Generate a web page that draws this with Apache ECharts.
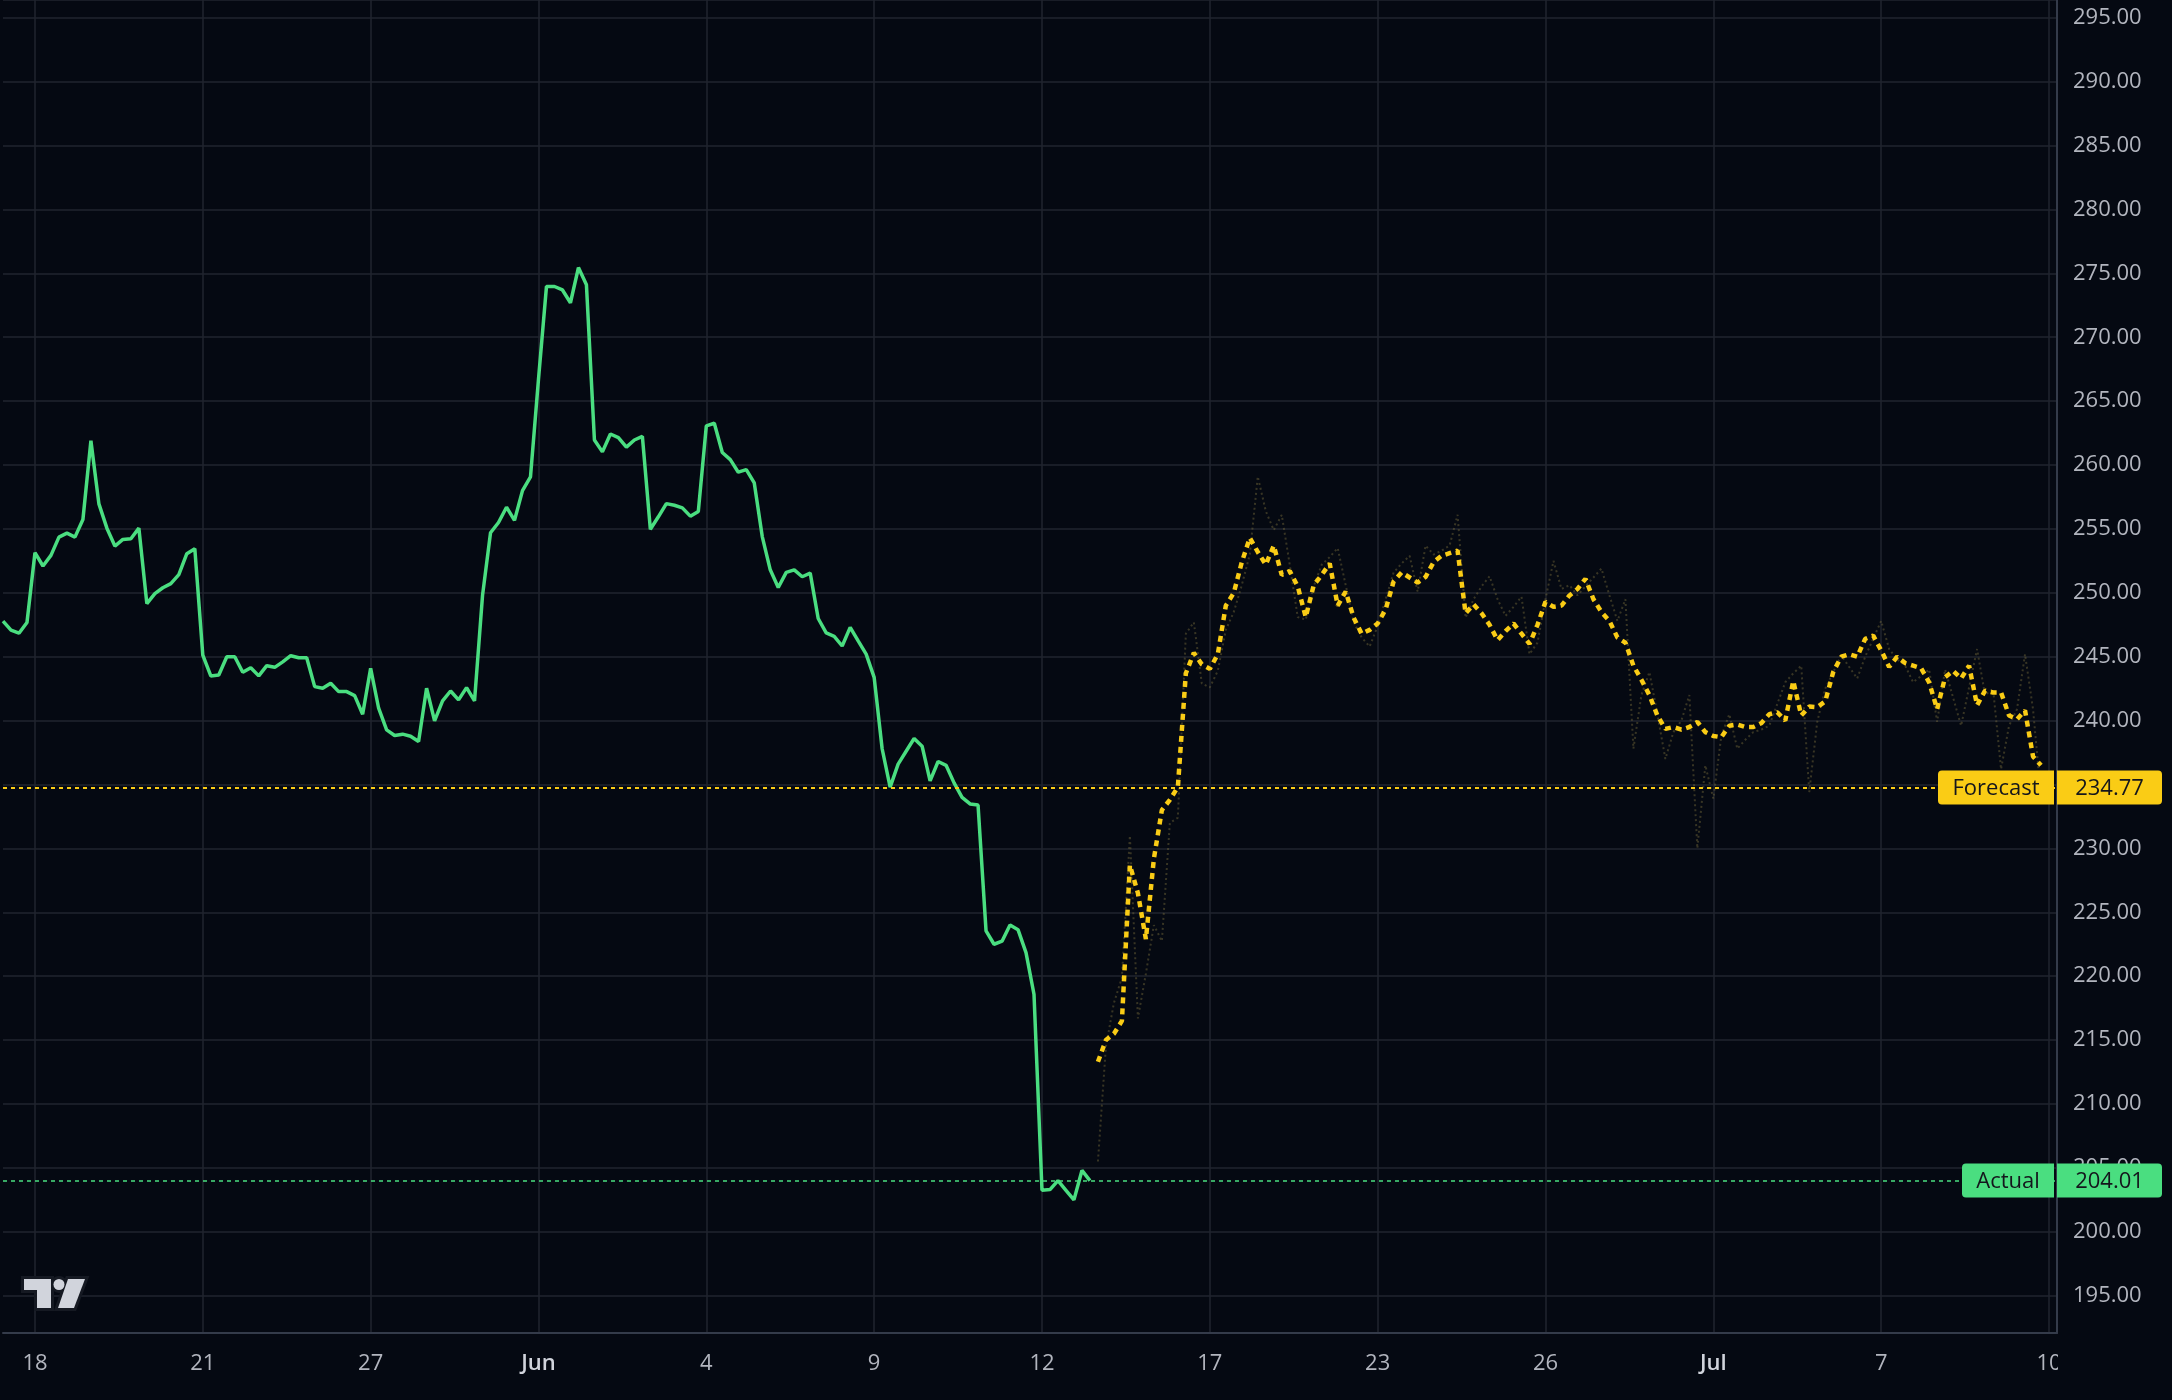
<!DOCTYPE html>
<html>
<head>
<meta charset="utf-8">
<script src="https://cdn.jsdelivr.net/npm/echarts@6/dist/echarts.min.js"></script>
<style>
html,body{margin:0;padding:0;background:#050912;}
#c{width:2172px;height:1400px;}
</style>
</head>
<body>
<div id="c"></div>
<script>
// ---- data ----
const barCount = 258;
const tickIndex = [4, 25, 46, 67, 88, 109, 130, 151, 172, 193, 214, 235, 256];
const tickText = ['18', '21', '27', 'Jun', '4', '9', '12', '17', '23', '26', 'Jul', '7', '10'];
const monthLabels = ['Jun', 'Jul'];

const yMin = 192.08;
const yMax = 296.39;

const actualStart = 0;
const actual = [
  247.78, 247.08, 246.84, 247.68, 253.14, 252.1, 252.93, 254.36, 254.67, 254.36,
  255.74, 261.9, 256.96, 255.06, 253.66, 254.18, 254.23, 255.06, 249.16, 249.94,
  250.4, 250.72, 251.42, 253.06, 253.45, 245.13, 243.5, 243.57, 245.0, 245.0,
  243.78, 244.14, 243.5, 244.3, 244.17, 244.6, 245.08, 244.92, 244.92, 242.66,
  242.53, 242.92, 242.27, 242.27, 241.96, 240.5, 244.1, 240.97, 239.28, 238.84,
  238.94, 238.78, 238.37, 242.53, 239.98, 241.54, 242.32, 241.62, 242.58, 241.54,
  249.8, 254.7, 255.5, 256.7, 255.67, 258.0, 259.08, 266.7, 273.97, 273.97,
  273.7, 272.7, 275.45, 274.1, 261.96, 261.03, 262.43, 262.15, 261.4, 261.96,
  262.24, 254.97, 255.95, 256.98, 256.85, 256.65, 256.0, 256.37, 263.07, 263.27,
  260.98, 260.42, 259.44, 259.64, 258.6, 254.4, 251.8, 250.42, 251.6, 251.8,
  251.26, 251.54, 247.99, 246.87, 246.6, 245.84, 247.3, 246.24, 245.2, 243.38,
  237.8, 234.8, 236.6, 237.6, 238.6, 238.0, 235.28, 236.8, 236.5, 235.13,
  234.0, 233.48, 233.39, 223.55, 222.5, 222.74, 224.0, 223.64, 221.84, 218.59,
  203.25, 203.3, 204.0, 203.25, 202.5, 204.8, 204.0
];

const forecastStart = 137;
const forecast = [
  213.3, 215.0, 215.5, 216.5, 228.7, 226.5, 222.9, 229.2, 233.0, 233.8,
  234.8, 243.7, 245.3, 244.4, 244.05, 245.2, 249.0, 250.0, 252.4, 254.3,
  253.2, 252.2, 253.7, 251.4, 251.7, 250.5, 248.1, 250.6, 251.4, 252.3,
  249.0, 250.1, 248.05, 246.8, 247.1, 247.6, 248.7, 250.9, 251.6, 251.2,
  250.8, 251.25, 252.4, 252.9, 253.1, 253.3, 248.4, 249.1, 248.4, 247.5,
  246.3, 247.0, 247.6, 246.8, 246.0, 247.5, 249.3, 248.9, 249.0, 249.8,
  250.3, 251.1, 249.5, 248.5, 247.8, 246.5, 246.1, 244.3, 243.2, 242.0,
  240.4, 239.35, 239.5, 239.3, 239.5, 239.9, 239.1, 238.8, 238.7, 239.6,
  239.7, 239.5, 239.5, 239.8, 240.5, 240.66, 240.0, 243.1, 240.4, 241.1,
  241.05, 241.5, 243.8, 245.0, 245.2, 245.0, 246.4, 246.65, 245.5, 244.2,
  245.0, 244.5, 244.3, 244.1, 243.0, 240.9, 243.4, 243.9, 243.3, 244.3,
  241.2, 242.35, 242.2, 242.2, 240.4, 240.1, 240.8, 237.2, 236.5
];

const forecastAlt = [
  205.5, 214.5, 217.9, 219.9, 231.0, 216.7, 220.2, 224.0, 222.75, 232.0,
  232.4, 246.8, 247.7, 242.9, 242.6, 243.9, 247.1, 248.5, 250.6, 253.0,
  259.1, 256.4, 254.9, 256.1, 252.2, 248.1, 247.9, 250.5, 252.2, 252.8,
  253.5, 250.6, 247.7, 246.5, 245.8, 247.4, 249.5, 251.6, 252.3, 252.9,
  250.1, 253.7, 253.0, 253.3, 253.7, 256.1, 248.05, 249.5, 250.5, 251.3,
  249.5, 248.2, 248.9, 249.7, 245.2, 246.1, 249.5, 252.5, 250.3, 250.6,
  249.8, 250.5, 251.2, 251.9, 249.8, 247.8, 249.5, 237.8, 242.0, 243.8,
  240.5, 237.0, 239.1, 240.0, 242.0, 230.0, 236.5, 233.9, 238.8, 240.5,
  237.8, 238.5, 239.1, 239.3, 239.6, 241.3, 243.0, 243.7, 244.3, 234.4,
  239.9, 242.5, 243.8, 245.1, 244.2, 243.3, 245.0, 246.4, 247.8, 245.6,
  244.8, 244.3, 243.0, 243.5, 244.0, 239.9, 244.0, 241.8, 239.6, 242.6,
  245.6, 242.0, 242.5, 236.2, 239.6, 240.9, 245.2, 240.9, 234.0
];

const forecastLast = 234.77;
const actualLast = 204.01;

// ---- styles ----
const BG = '#050912';
const GRID = '#20252f';
const AXIS = '#343b4a';
const LABEL = '#b2b5be';
const GREEN = '#4ade80';
const YELLOW = '#facc15';
const FONT = '"Open Sans", "DejaVu Sans", sans-serif';

const tickMap = new Map(tickIndex.map((v, i) => [v, tickText[i]]));
const categories = Array.from({ length: barCount }, (_, i) => String(i));
function place(arr, start) {
  const out = new Array(barCount).fill(null);
  arr.forEach((v, k) => { out[start + k] = v; });
  return out;
}

const chart = echarts.init(document.getElementById('c'), null, { renderer: 'canvas', width: 2172, height: 1400 });

const option = {
  backgroundColor: BG,
  animation: false,
  grid: { left: 3, right: 115, top: 0, bottom: 67, containLabel: false },
  xAxis: {
    type: 'category',
    data: categories,
    boundaryGap: false,
    axisLine: { show: true, lineStyle: { color: AXIS, width: 2 } },
    axisTick: { show: false },
    axisLabel: {
      interval: (i) => tickMap.has(i),
      formatter: (v, i) => {
        const t = tickMap.get(i);
        if (t === undefined) return '';
        return monthLabels.includes(t) ? '{m|' + t + '}' : t;
      },
      color: LABEL,
      fontSize: 22,
      fontFamily: FONT,
      margin: 20,
      rich: { m: { color: '#d1d4dc', fontSize: 22, fontFamily: FONT, fontWeight: 600 } }
    },
    splitLine: { show: true, interval: (i) => tickMap.has(i), lineStyle: { color: GRID, width: 1.5 } }
  },
  yAxis: {
    type: 'value',
    position: 'right',
    min: yMin,
    max: yMax,
    minInterval: 5,
    maxInterval: 5,
    axisLine: { show: true, lineStyle: { color: AXIS, width: 2 } },
    axisTick: { show: false },
    axisLabel: {
      color: LABEL,
      fontSize: 22,
      fontFamily: FONT,
      margin: 16,
      padding: [4, 0, 0, 0],
      showMinLabel: false,
      showMaxLabel: false,
      formatter: (v) => v.toFixed(2)
    },
    splitLine: { show: true, lineStyle: { color: GRID, width: 1.5 } }
  },
  series: [
    {
      name: 'ForecastAlt',
      type: 'line',
      data: place(forecastAlt, forecastStart),
      showSymbol: false,
      silent: true,
      z: 2,
      lineStyle: { color: 'rgba(120,108,60,0.45)', width: 2, type: [2, 3] }
    },
    {
      name: 'Actual',
      type: 'line',
      data: place(actual, actualStart),
      showSymbol: false,
      silent: true,
      z: 4,
      lineStyle: { color: GREEN, width: 3.5 },
      markLine: {
        silent: true,
        symbol: ['none', 'none'],
        label: { show: false },
        lineStyle: { color: GREEN, width: 1.5, type: [4, 4] },
        data: [{ yAxis: actualLast }]
      }
    },
    {
      name: 'Forecast',
      type: 'line',
      data: place(forecast, forecastStart),
      showSymbol: false,
      silent: true,
      z: 5,
      lineStyle: { color: YELLOW, width: 4.5, type: [6, 5] },
      markLine: {
        silent: true,
        symbol: ['none', 'none'],
        label: { show: false },
        lineStyle: { color: YELLOW, width: 2, type: [4, 4] },
        data: [{ yAxis: forecastLast }]
      }
    }
  ]
};
chart.setOption(option);

function txt(x, y, text, fill) {
  return {
    type: 'text', z: 101, x: x, y: y,
    style: {
      text: text, fill: fill, fontSize: 22, fontFamily: FONT,
      align: 'center', verticalAlign: 'middle', textAlign: 'center', textVerticalAlign: 'middle'
    }
  };
}
function badge(value, name, color, nameLeft) {
  const y = chart.convertToPixel({ yAxisIndex: 0 }, value);
  return [
    { type: 'rect', z: 100, shape: { x: nameLeft, y: y - 17, width: 2054 - nameLeft, height: 34, r: [4, 0, 0, 4] }, style: { fill: color } },
    txt((nameLeft + 2054) / 2, y + 1, name, '#14161c'),
    { type: 'rect', z: 100, shape: { x: 2057, y: y - 17, width: 105, height: 34, r: [0, 4, 4, 0] }, style: { fill: color } },
    txt(2109.5, y + 1, value.toFixed(2), '#14161c')
  ];
}

const logoShapes = [
  { type: 'rect', shape: { x: 24, y: 1279, width: 27, height: 11 } },
  { type: 'rect', shape: { x: 37, y: 1279, width: 14, height: 29 } },
  { type: 'circle', shape: { cx: 59, cy: 1284.5, r: 5.5 } },
  { type: 'polygon', shape: { points: [[68, 1279], [85, 1279], [74, 1308], [58, 1308]] } }
];
const logo = [];
logoShapes.forEach(s => logo.push(Object.assign({}, s, { z: 50, style: { fill: '#151922', stroke: '#151922', lineWidth: 6 } })));
logoShapes.forEach(s => logo.push(Object.assign({}, s, { z: 51, style: { fill: '#d1d4dc' } })));

chart.setOption({
  graphic: [
    { type: 'rect', z: 90, shape: { x: 2058, y: 1334, width: 114, height: 66 }, style: { fill: BG } },
    ...logo,
    ...badge(forecastLast, 'Forecast', YELLOW, 1938),
    ...badge(actualLast, 'Actual', GREEN, 1962)
  ]
});
</script>
</body>
</html>
